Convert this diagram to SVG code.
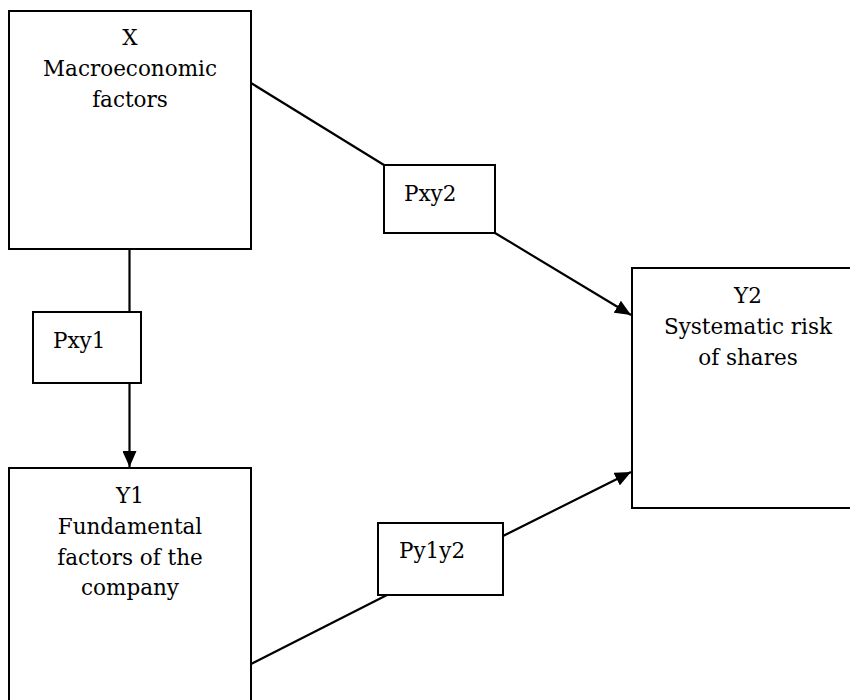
<svg xmlns="http://www.w3.org/2000/svg" width="850" height="700" viewBox="0 0 850 700">
<defs>
<style>
.box{fill:#fff;stroke:#000;stroke-width:2}
text{font-family:'DejaVu Serif',serif;font-size:21.5px;fill:#000}
.c{text-anchor:middle}
.ln{stroke:#000;stroke-width:2.2;fill:none}
</style>
<marker id="ah" markerWidth="16" markerHeight="14" refX="16" refY="7" orient="auto" markerUnits="userSpaceOnUse">
<path d="M0,0 L16,7 L0,14 Z" fill="#000"/>
</marker>
</defs>
<rect width="850" height="700" fill="#fff"/>
<g id="connectors">
<line class="ln" x1="129.5" y1="249" x2="129.5" y2="312"/>
<line class="ln" x1="129.5" y1="383" x2="129.5" y2="467" marker-end="url(#ah)"/>
<line class="ln" x1="251" y1="83" x2="384" y2="165"/>
<line class="ln" x1="495" y1="233" x2="631" y2="315" marker-end="url(#ah)"/>
<line class="ln" x1="251" y1="664" x2="387" y2="595"/>
<line class="ln" x1="503" y1="536" x2="631" y2="472" marker-end="url(#ah)"/>
</g>
<g id="nodeX">
<rect class="box" x="9" y="11" width="242" height="238"/>
<text class="c" x="130" y="45">X</text>
<text class="c" x="130" y="76">Macroeconomic</text>
<text class="c" x="130" y="107">factors</text>
</g>
<g id="nodeY1">
<rect class="box" x="9" y="468" width="242" height="260"/>
<text class="c" x="130" y="503">Y1</text>
<text class="c" x="130" y="534">Fundamental</text>
<text class="c" x="130" y="565">factors of the</text>
<text class="c" x="130" y="595">company</text>
</g>
<g id="nodeY2">
<rect class="box" x="632" y="268" width="232" height="240"/>
<text class="c" x="748" y="303">Y2</text>
<text class="c" x="748" y="334">Systematic risk</text>
<text class="c" x="748" y="365">of shares</text>
</g>
<g id="nodePxy1">
<rect class="box" x="33" y="312" width="108" height="71"/>
<text x="53" y="348">Pxy1</text>
</g>
<g id="nodePxy2">
<rect class="box" x="384" y="165" width="111" height="68"/>
<text x="404" y="201">Pxy2</text>
</g>
<g id="nodePy1y2">
<rect class="box" x="378" y="523" width="125" height="72"/>
<text x="399" y="558">Py1y2</text>
</g>
</svg>
